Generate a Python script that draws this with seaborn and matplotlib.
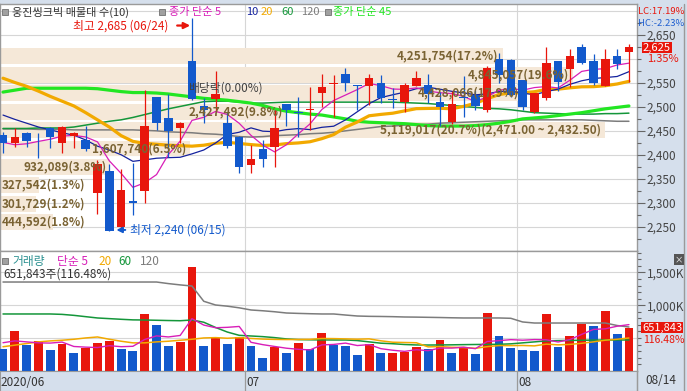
import numpy as np
import pandas as pd
import matplotlib
matplotlib.use("Agg")
import matplotlib.pyplot as plt
import matplotlib.transforms as mtransforms
from matplotlib.patches import Rectangle
from matplotlib.lines import Line2D
from matplotlib.ticker import FuncFormatter
import seaborn as sns

sns.set_style("white")
plt.rcParams["font.family"] = ["Noto Sans CJK KR", "DejaVu Sans"]
plt.rcParams["axes.unicode_minus"] = False

# ---- 일봉 데이터 (2020/06/02 ~ 2020/08/14) ----
dates = pd.bdate_range("2020-06-02", "2020-08-14")

opens = [2442, 2425, 2446, 2434, 2456, 2425, 2440, 2431, 2321, 2367,
         2250, 2303, 2325, 2521, 2477, 2456, 2596, 2502, 2516, 2466,
         2437, 2379, 2412, 2416, 2506, 2489, 2494, 2529, 2548, 2569,
         2546, 2544, 2550, 2517, 2510, 2544, 2546, 2510, 2468, 2520,
         2525, 2493, 2600, 2598, 2556, 2490, 2519, 2596, 2579, 2625,
         2596, 2544, 2606, 2615]
highs = [2448, 2456, 2448, 2446, 2458, 2460, 2448, 2460, 2390, 2381,
         2370, 2383, 2535, 2521, 2527, 2468, 2685, 2518, 2575, 2490,
         2440, 2420, 2431, 2493, 2506, 2521, 2541, 2569, 2567, 2581,
         2546, 2569, 2567, 2539, 2550, 2575, 2569, 2531, 2533, 2564,
         2535, 2585, 2612, 2600, 2556, 2529, 2625, 2596, 2621, 2631,
         2610, 2621, 2621, 2631]
lows = [2404, 2417, 2417, 2394, 2415, 2404, 2415, 2408, 2277, 2240,
        2245, 2274, 2300, 2452, 2396, 2425, 2514, 2466, 2489, 2415,
        2362, 2362, 2374, 2374, 2460, 2437, 2452, 2500, 2479, 2533,
        2493, 2504, 2508, 2498, 2489, 2544, 2508, 2460, 2464, 2479,
        2493, 2489, 2550, 2520, 2494, 2488, 2515, 2533, 2542, 2590,
        2546, 2544, 2579, 2552]
closes = [2425, 2438, 2429, 2432, 2438, 2458, 2446, 2412, 2381, 2240,
          2327, 2300, 2460, 2466, 2450, 2466, 2517, 2493, 2527, 2418,
          2374, 2391, 2391, 2456, 2493, 2487, 2496, 2541, 2550, 2550,
          2544, 2560, 2518, 2515, 2546, 2560, 2527, 2500, 2506, 2518,
          2502, 2581, 2567, 2525, 2500, 2529, 2592, 2552, 2606, 2592,
          2550, 2600, 2590, 2625]
volumes = [331000, 611000, 392000, 458000, 316000, 408000, 275000, 342000, 427000, 458000,
           331000, 305000, 866000, 698000, 377000, 443000, 1588000, 377000, 495000, 408000,
           510000, 377000, 198000, 357000, 275000, 427000, 331000, 580000, 392000, 377000,
           240000, 403000, 270000, 272000, 290000, 366000, 331000, 469000, 270000, 357000,
           255000, 881000, 530000, 347000, 316000, 301000, 866000, 362000, 530000, 713000,
           682000, 911000, 559618, 651843]

# 이동평균: 첫 구간은 차트에서 읽은 값
ma5_head = [2426, 2421, 2423, 2428]
ma10_head = [2483, 2474, 2466, 2458, 2452, 2446, 2441, 2431, 2418]
ma20_head = [2560, 2551, 2543, 2533, 2522, 2512, 2502, 2488, 2473, 2458,
             2440, 2428, 2424, 2422, 2420, 2419, 2418, 2420, 2424]
ma45 = [2531, 2535, 2539, 2539, 2539, 2539, 2539, 2539, 2538, 2535,
        2532, 2530, 2530, 2529, 2527, 2524, 2521, 2518, 2516, 2514,
        2511, 2508, 2503, 2496, 2491, 2488, 2485, 2483, 2479, 2475,
        2470, 2468, 2467, 2466, 2465, 2463, 2461, 2460, 2460, 2460,
        2461, 2463, 2466, 2470, 2475, 2477, 2479, 2482, 2485, 2488,
        2492, 2496, 2499, 2502]
ma60 = [2455, 2455, 2455, 2456, 2456, 2456, 2458, 2462, 2466, 2470,
        2473, 2478, 2484, 2490, 2496, 2501, 2506, 2511, 2512, 2512,
        2510, 2508, 2508, 2509, 2510, 2510, 2510, 2510, 2510, 2510,
        2510, 2510, 2510, 2510, 2509, 2508, 2507, 2505, 2503, 2501,
        2499, 2497, 2496, 2494, 2491, 2488, 2487, 2486, 2485, 2485,
        2485, 2486, 2486, 2487]
ma120 = [2454, 2454, 2454, 2453, 2453, 2453, 2452, 2452, 2452, 2452,
         2452, 2452, 2451, 2450, 2448, 2447, 2446, 2444, 2443, 2441,
         2438, 2437, 2438, 2440, 2441, 2442, 2444, 2445, 2447, 2450,
         2453, 2456, 2459, 2460, 2462, 2463, 2464, 2466, 2467, 2468,
         2469, 2470, 2471, 2472, 2473, 2473, 2473, 2473, 2473, 2473,
         2472, 2471, 2470, 2470]

vol_ma5_head = [427000, 455000, 440000, 425000]
vol_ma20_head = [366000, 390000, 415000, 440000, 455000, 465000, 480000, 500000, 515000, 480000,
                 450000, 425000, 425000, 440000, 450000, 465000, 480000, 500000, 505000]
vol_ma60 = [866000, 866000, 866000, 866000, 866000, 860000, 845000, 825000, 805000, 795000,
            785000, 776000, 774000, 770000, 766000, 763000, 774000, 740000, 660000, 590000,
            540000, 530000, 520000, 505000, 485000, 475000, 472000, 470000, 469000, 469000,
            460000, 440000, 420000, 412000, 400000, 393000, 392000, 393000, 395000, 398000,
            400000, 402000, 403000, 410000, 425000, 440000, 455000, 460000, 462000, 465000,
            467000, 468000, 469000, 469000]
vol_ma120 = [1354000] * 14 + [1330000, 1310000, 1293000, 1060000, 1003000, 985000,
             960000, 927000, 915000, 900000, 881000, 875000, 870000, 866000, 866000, 850000,
             835000, 830000, 828000, 825000, 820000, 818000, 815000, 812000, 808000, 805000,
             805000, 805000, 805000, 800000, 744000, 728000, 728000, 728000, 728000, 728000,
             728000, 728000, 690000, 667000]

# 매물대 (가격대별 거래량, 낮은 가격 -> 높은 가격)
band_volumes = [444592, 301729, 327542, 932089, 1607740, 5119017, 2427492, 4428066, 4845057, 4251754]

# ---- 색상 ----
RED = "#E8160C"
BLUE = "#1259CC"
PANEL = "#D5DFEC"
BEIGE = "#F5E8D8"
BROWN = "#7A6333"
GRID = "#D6D6D6"
FRAME = "#9A9A9A"
MAGENTA = "#D81EB8"
NAVY = "#14229E"
ORANGE = "#F2A900"
GREEN = "#14963A"
GRAY = "#7C7C7C"
LIME = "#22E622"


def sma(values, window, head):
    s = pd.Series(values, dtype=float).rolling(window).mean()
    s.iloc[:len(head)] = head
    return s.to_numpy()


ma5 = sma(closes, 5, ma5_head)
ma10 = sma(closes, 10, ma10_head)
ma20 = sma(closes, 20, ma20_head)
vol_ma5 = sma(volumes, 5, vol_ma5_head)
vol_ma20 = sma(volumes, 20, vol_ma20_head)

W, H = 687, 391
fig = plt.figure(figsize=(W / 100, H / 100), dpi=100, facecolor=PANEL)


def box(x0, y0, x1, y1):
    return [x0 / W, 1 - y1 / H, (x1 - x0) / W, (y1 - y0) / H]


def ftext(x, y, s, **kw):
    kw.setdefault("va", "center")
    kw.setdefault("fontsize", 8)
    return fig.text(x / W, 1 - y / H, s, **kw)


def fline(x0, y0, x1, y1, **kw):
    fig.add_artist(Line2D([x0 / W, x1 / W], [1 - y0 / H, 1 - y1 / H],
                          transform=fig.transFigure, **kw))


def fsquare(x, y):
    fig.add_artist(Rectangle((x / W, 1 - (y + 6) / H), 6 / W, 6 / H,
                             transform=fig.transFigure, facecolor="#A0A0A0",
                             edgecolor="#707070", lw=0.6))


n = len(closes)
idx = np.arange(n)
step = 11.81
xlim = (-3 / step, 634 / step)
month_edges = [i - 0.5 for i in range(1, n) if dates[i].month != dates[i - 1].month]

o, h, l, c = map(np.array, (opens, highs, lows, closes))
vol = np.array(volumes, dtype=float)

# ================= 가격 차트 =================
price_box = box(0, 4, 637, 251)
ax_bg = fig.add_axes(price_box, facecolor="white")
ax = fig.add_axes(price_box)
ax.set_zorder(ax_bg.get_zorder() + 1)
ax.patch.set_visible(False)
plim = (2199, 2715)
ax_bg.set_ylim(plim)

# 매물대 막대
edges = np.linspace(min(closes), max(closes), len(band_volumes) + 1)
centers = (edges[:-1] + edges[1:]) / 2
band_h = edges[1] - edges[0]
vmax = max(band_volumes)
ax_bg.set_xlim(0, vmax * 637 / 605)
for p in range(2250, 2701, 50):
    ax_bg.axhline(p, color=GRID, lw=0.8, zorder=0)
vtrans = mtransforms.blended_transform_factory(ax.transData, ax_bg.transAxes)
for m in month_edges:
    ax_bg.plot([m, m], [0, 1], transform=vtrans, color=GRID, lw=0.8, zorder=0)
ax_bg.barh(centers, band_volumes, height=band_h * 0.86, color=BEIGE, lw=0, zorder=2)
ax_bg.set_xticks([])
ax_bg.set_yticks([])
for sp in ax_bg.spines.values():
    sp.set_color(FRAME)
    sp.set_linewidth(1)

# 이동평균선
for vals, col, lw in [(ma120, GRAY, 1.1), (ma60, GREEN, 1.1), (ma45, LIME, 2.3),
                      (ma20, ORANGE, 2.3), (ma10, NAVY, 0.9), (ma5, MAGENTA, 0.9)]:
    sns.lineplot(x=idx, y=vals, ax=ax, color=col, linewidth=lw, zorder=2)

# 캔들
cols = np.where(c >= o, RED, BLUE)
ax.vlines(idx, l, h, colors=cols, lw=0.9, zorder=3)
ax.bar(idx, np.maximum(np.abs(c - o), 1.5), bottom=np.minimum(o, c), width=0.72,
       color=cols, lw=0, zorder=4)

# 매물대 라벨
total = sum(band_volumes)
imax = int(np.argmax(band_volumes))
left_tr = mtransforms.blended_transform_factory(ax.transAxes, ax.transData)
for k, (yc, v) in enumerate(zip(centers, band_volumes)):
    pct = v / total * 100
    s = f"{v:,}({pct:.1f}%)"
    if k == imax:
        s += f"({edges[k + 1]:,.2f} ~ {edges[k]:,.2f})"
    if pct >= 3:
        ax.annotate(s, xy=(v, yc), xycoords=ax_bg.transData, xytext=(-4, 0),
                    textcoords="offset pixels", ha="right", va="center",
                    fontsize=8.5, fontweight="bold", color=BROWN, zorder=6)
    else:
        ax.text(0.002, yc, s, transform=left_tr, ha="left", va="center",
                fontsize=8.5, fontweight="bold", color=BROWN, zorder=6)

# 최고 / 최저 표시
i_hi, i_lo = int(np.argmax(h)), int(np.argmin(l))
ax.annotate(f"최고 {h[i_hi]:,} ({dates[i_hi]:%m/%d})", xy=(i_hi - 0.15, h[i_hi] - 15),
            xytext=(i_hi - 2.0, h[i_hi] - 15), ha="right", va="center", fontsize=8.5,
            color=RED, zorder=7,
            arrowprops=dict(arrowstyle="-|>", color=RED, lw=1.6, mutation_scale=9, shrinkA=4, shrinkB=0))
ax.annotate(f"최저 {l[i_lo]:,} ({dates[i_lo]:%m/%d})", xy=(i_lo + 0.6, l[i_lo] + 3),
            xytext=(i_lo + 1.75, l[i_lo] + 3), ha="left", va="center", fontsize=8.5,
            color=BLUE, zorder=7,
            arrowprops=dict(arrowstyle="-|>", color=BLUE, lw=1.4, mutation_scale=8, shrinkA=1, shrinkB=0))
ax.text(i_hi - 0.35, 2540, "배당락(0.00%)", ha="left", va="center", fontsize=8.5,
        color="#404040", zorder=7)

ax.set_xlim(xlim)
ax.set_ylim(plim)
ax.set_xlabel("")
ax.set_ylabel("")
ax.set_xticks([])
ax.yaxis.tick_right()
ax.set_yticks([2250, 2300, 2350, 2400, 2450, 2500, 2550, 2650])
ax.set_yticks(np.arange(2225, 2700, 25), minor=True)
ax.yaxis.set_major_formatter(FuncFormatter(lambda v, _: f"{v:,.0f}"))
ax.tick_params(axis="y", which="major", direction="out", length=6, width=0.8,
               color="#666666", labelcolor="#444444", labelsize=8.5, pad=1)
ax.tick_params(axis="y", which="minor", direction="out", length=3, width=0.8, color="#666666")
for sp in ax.spines.values():
    sp.set_visible(False)

# ================= 거래량 차트 =================
axv = fig.add_axes(box(0, 251, 637, 371), facecolor="white")
for q in (500000, 1000000, 1500000):
    axv.axhline(q, color=GRID, lw=0.8, zorder=0)
for m in month_edges:
    axv.axvline(m, color=GRID, lw=0.8, zorder=0)
vcol = [BLUE] + [RED if vol[i] >= vol[i - 1] else BLUE for i in range(1, n)]
axv.bar(idx, vol, width=0.75, color=vcol, lw=0, zorder=3)
for vals, col, lw in [(vol_ma120, GRAY, 1.1), (vol_ma60, GREEN, 1.1),
                      (vol_ma20, ORANGE, 1.1), (vol_ma5, MAGENTA, 1.0)]:
    sns.lineplot(x=idx, y=vals, ax=axv, color=col, linewidth=lw, zorder=4)
axv.set_xlim(xlim)
axv.set_ylim(-4600, 1827600)
axv.set_xlabel("")
axv.set_ylabel("")
axv.set_xticks([])
axv.yaxis.tick_right()
axv.set_yticks([1000000, 1500000])
axv.set_yticks(np.arange(100000, 1800001, 100000), minor=True)
axv.yaxis.set_major_formatter(FuncFormatter(lambda v, _: f"{v / 1000:,.0f}K"))
axv.tick_params(axis="y", which="major", direction="out", length=6, width=0.8,
                color="#666666", labelcolor="#444444", labelsize=8.5, pad=1)
axv.tick_params(axis="y", which="minor", direction="out", length=3, width=0.8, color="#666666")
for sp in axv.spines.values():
    sp.set_color(FRAME)
    sp.set_linewidth(1)

# ================= 날짜 축 =================
axd = fig.add_axes(box(0, 371, 637, 391), facecolor=PANEL)
axd.set_xlim(xlim)
axd.set_ylim(0, 1)
axd.set_xticks([])
axd.set_yticks([])
for sp in axd.spines.values():
    sp.set_color(FRAME)
axd.text(xlim[0] + 0.05, 0.45, f"{dates[0]:%Y/%m}", ha="left", va="center", fontsize=8.5, color="#333333")
for m in month_edges:
    axd.axvline(m, color=FRAME, lw=0.9)
    axd.text(m + 0.12, 0.45, f"{dates[int(m + 0.5)]:%m}", ha="left", va="center",
             fontsize=8.5, color="#333333")
ftext(645, 381, f"{dates[-1]:%m/%d}", color="#333333", fontsize=8.5)
fline(637, 371, 637, 391, color=FRAME, lw=1)
fline(684, 4, 684, 391, color=FRAME, lw=1)

# ================= 범례 / 우측 정보 =================
fsquare(2, 9)
ftext(12, 12, "웅진씽크빅 매물대 수(10)", color="#333333")
fsquare(159, 9)
ftext(169, 12, "종가 단순 5", color=MAGENTA)
ftext(246, 12, "10", color=NAVY)
ftext(261, 12, "20", color=ORANGE)
ftext(281, 12, "60", color=GREEN)
ftext(301, 12, "120", color=GRAY)
fsquare(325, 9)
ftext(333, 12, "종가 단순 45", color=LIME)

fsquare(2, 258)
ftext(12, 261.5, "거래량", color="#2A9090", fontsize=8.5)
ftext(57, 261.5, "단순 5", color=MAGENTA, fontsize=8.5)
ftext(98, 261.5, "20", color=ORANGE, fontsize=8.5)
ftext(118, 261.5, "60", color=GREEN, fontsize=8.5)
ftext(140, 261.5, "120", color=GRAY, fontsize=8.5)
vol_ratio = vol[-1] / vol[-2] * 100
ftext(3, 274.5, f"{int(vol[-1]):,}주({vol_ratio:.2f}%)", color="#333333", fontsize=8.5)

last, prev = closes[-1], closes[-2]
ftext(638, 11, f"LC:{(last / min(lows) - 1) * 100:.2f}%", color=RED, fontsize=6.8)
ftext(638, 23.5, f"HC:{(last / max(highs) - 1) * 100:.2f}%", color="#2060D0", fontsize=6.8)
ftext(643, 47.5, f"{last:,}", color="white", fontsize=8,
      bbox=dict(boxstyle="square,pad=0.08", facecolor=RED, edgecolor="none"))
ftext(647, 59.5, f"{(last / prev - 1) * 100:.2f}%", color=RED)
ftext(642, 327.5, f"{int(vol[-1]):,}", color="white", fontsize=8,
      bbox=dict(boxstyle="square,pad=0.08", facecolor=RED, edgecolor="none"))
ftext(643, 340, f"{vol_ratio:.2f}%", color=RED, fontsize=7.5)
ftext(675, 259.5, "×", color="white", fontsize=6,
      bbox=dict(boxstyle="square,pad=0.1", facecolor="#555555", edgecolor="none"))

fig.savefig("out.png", dpi=100, facecolor=PANEL)
